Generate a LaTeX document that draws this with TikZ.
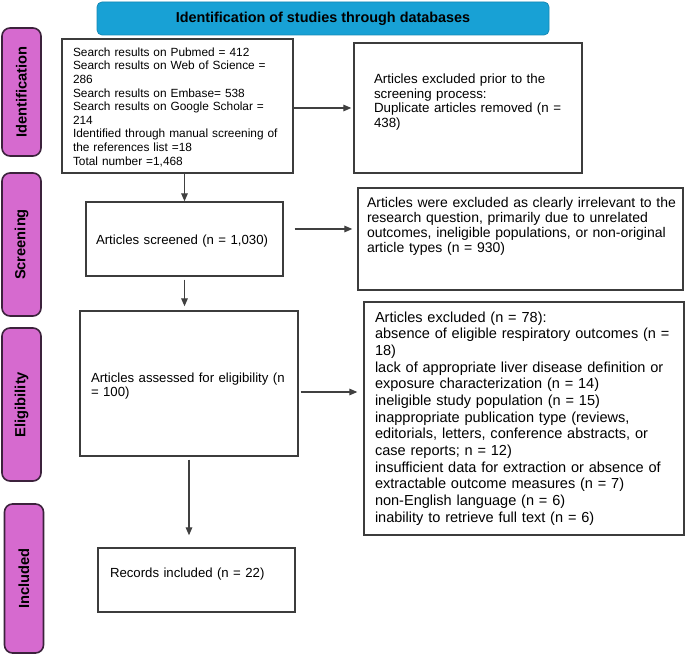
\documentclass[tikz,border=0pt]{standalone}
\usepackage{fontspec}
\setmainfont{Liberation Sans}
\usetikzlibrary{arrows.meta}

\newlength{\pxu}
\setlength{\pxu}{0.75pt}
\definecolor{headblue}{RGB}{24,161,213}
\definecolor{phasepink}{RGB}{214,106,207}
\definecolor{phaseline}{RGB}{60,34,60}
\definecolor{boxline}{RGB}{60,60,60}

\begin{document}
\begin{tikzpicture}[
                x=0.75pt, y=-0.75pt,
                >={Triangle[length=6pt,width=5pt]},
                box/.style={rectangle,draw=boxline,line width=1.1pt,fill=white,inner ysep=0pt,align=left},
                phase/.style={rectangle,rounded corners=8\pxu,draw=phaseline,line width=1.2pt,fill=phasepink,
                              rotate=90,minimum height=39\pxu,inner sep=0pt,font=\bfseries\fontsize{11}{12}\selectfont},
                head/.style={rectangle,rounded corners=5\pxu,draw=headblue!85!black,line width=0.6pt,fill=headblue,
                             minimum width=452\pxu,minimum height=33\pxu,font=\bfseries\fontsize{10.8}{12}\selectfont},
                link/.style={->,draw=black!75,line width=0.8pt},
            ]

            \useasboundingbox (0,0) rectangle (685,655);

            % Define nodes
            \node[head] (H) at (323,18.5) {Identification of studies through databases};

            \node[phase,minimum width=128\pxu] (P1) at (21.5,92) {Identification};
            \node[phase,minimum width=143\pxu] (P2) at (21.5,244.5) {Screening};
            \node[phase,minimum width=153\pxu] (P3) at (21.5,404.5) {Eligibility};
            \node[phase,minimum width=149\pxu] (P4) at (24,578.5) {Included};

            \node[box,text width=209\pxu,inner xsep=11\pxu,text height=17.3\pxu,text depth=116.7\pxu,
                  font=\fontsize{8.9}{10.2}\selectfont] (B1) at (177.5,106) {Search results on Pubmed = 412\\
                Search results on Web of Science =\\ 286\\ Search results on Embase= 538\\
                Search results on Google Scholar =\\ 214\\ Identified through manual screening of\\
                the references list =18\\ Total number =1,468};
            \node[box,text width=188\pxu,inner xsep=20\pxu,text height=40.8\pxu,text depth=89.2\pxu,
                  font=\fontsize{10}{10.9}\selectfont] (E1) at (468,108) {Articles excluded prior to the\\
                screening process:\\ Duplicate articles removed (n =\\ 438)};

            \node[box,text width=177\pxu,inner xsep=10\pxu,text height=42.8\pxu,text depth=31.2\pxu,
                  font=\fontsize{9.9}{10.5}\selectfont] (B2) at (184.5,239) {Articles screened (n = 1,030)};
            \node[box,text width=313\pxu,inner xsep=6\pxu,text height=19.1\pxu,text depth=82.9\pxu,
                  font=\fontsize{10.5}{11.25}\selectfont] (E2) at (520.5,239) {\hspace*{3\pxu}Articles were excluded as clearly irrelevant to the\\
                \hspace*{3\pxu}research question, primarily due to unrelated\\ \hspace*{3\pxu}outcomes, ineligible populations, or non-original\\
                \hspace*{3\pxu}article types (n = 930)};

            \node[box,text width=196\pxu,inner xsep=11\pxu,text height=71.8\pxu,text depth=73.2\pxu,
                  font=\fontsize{9.9}{10.5}\selectfont] (B3) at (189,383.5) {Articles assessed for eligibility (n\\ = 100)};
            \node[box,text width=298\pxu,inner xsep=11\pxu,text height=20.2\pxu,text depth=212.8\pxu,
                  font=\fontsize{10.9}{12.5}\selectfont] (E3) at (524,418.5) {Articles excluded (n = 78):\\
                absence of eligible respiratory outcomes (n =\\ 18)\\
                lack of appropriate liver disease definition or\\ exposure characterization (n = 14)\\
                ineligible study population (n = 15)\\ inappropriate publication type (reviews,\\
                editorials, letters, conference abstracts, or\\ case reports; n = 12)\\
                insufficient data for extraction or absence of\\ extractable outcome measures (n = 7)\\
                non-English language (n = 6)\\ inability to retrieve full text (n = 6)};

            \node[box,text width=173\pxu,inner xsep=12\pxu,text height=29.8\pxu,text depth=34.2\pxu,
                  font=\fontsize{9.9}{10.5}\selectfont] (B4) at (196.5,580) {Records included (n = 22)};

            % Draw connections
            \draw[link,shorten >=2\pxu] (B1.east |- E1.west) -- (E1.west);
            \draw[link] (B1.south -| B2.north) -- (B2.north);
            \draw[link,shorten <=11\pxu,shorten >=5\pxu] ([yshift=10\pxu]B2.east) -- ([yshift=10\pxu]E2.west);
            \draw[link,shorten <=3\pxu,shorten >=4\pxu] (B2.south) -- (B2.south |- B3.north);
            \draw[link,shorten <=2\pxu,shorten >=6\pxu] ([yshift=-8.5\pxu]B3.east) -- ([yshift=26.5\pxu]E3.west);
            \draw[link,shorten <=3\pxu,shorten >=12\pxu] (B3.south) -- (B3.south |- B4.north);

            \end{tikzpicture}
\end{document}
